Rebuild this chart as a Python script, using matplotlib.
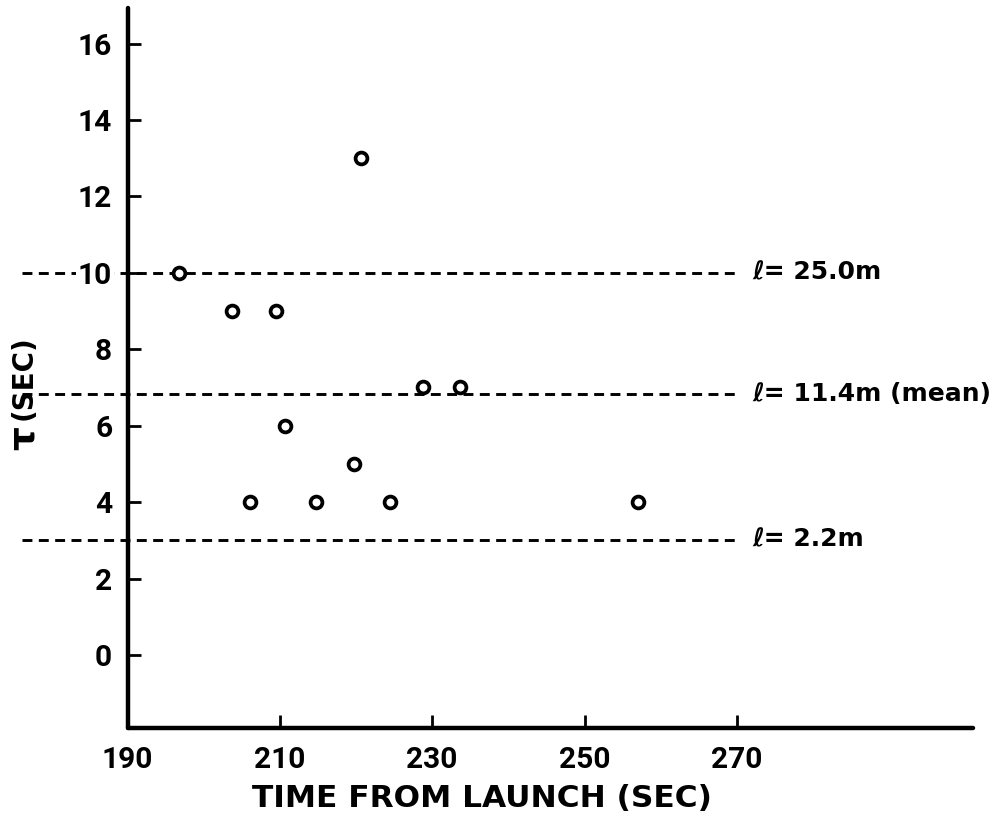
import matplotlib
matplotlib.use("Agg")
import matplotlib.pyplot as plt

# Relaxation time versus time from launch
time_s = [196.7, 203.7, 209.5, 206.1, 210.7, 214.8, 219.8, 220.6, 224.5, 228.8, 233.6, 257.0]
tau_s = [10, 9, 9, 4, 6, 4, 5, 13, 4, 7, 7, 4]

# Reference scale lengths and their tau levels
ref_tau = [10.0, 6.82, 3.0]
ref_labels = ["ℓ= 25.0m", "ℓ= 11.4m (mean)", "ℓ= 2.2m"]

xticks = [190, 210, 230, 250, 270]
yticks = [0, 2, 4, 6, 8, 10, 12, 14, 16]

plt.rcParams["font.family"] = ["Roboto", "DejaVu Sans"]
WIDE = ["DejaVu Sans"]

W, H = 991, 818
fig = plt.figure(figsize=(W / 100, H / 100), dpi=100)
ax = fig.add_axes([127.5 / W, 90 / H, (973 - 127.5) / W, (728 - 8) / H])
ax.set_xlim(190, 301)
ax.set_ylim(-1.91, 16.93)
ax.set_axisbelow(False)

for s in ("top", "right"):
    ax.spines[s].set_visible(False)
for s in ("left", "bottom"):
    ax.spines[s].set_linewidth(3.2)
    ax.spines[s].set_capstyle("round")

ax.set_xticks(xticks)
ax.set_yticks(yticks)
ax.tick_params(axis="both", direction="in", length=9.5, width=2.0,
               labelsize=21.5, pad=11)
ax.tick_params(axis="x", pad=13)
for lab in ax.get_xticklabels() + ax.get_yticklabels():
    lab.set_fontweight("bold")

# Dashed reference levels running past the left axis
for yv, txt in zip(ref_tau, ref_labels):
    ax.plot([176.2, 269.8], [yv, yv], color="black", lw=2.1,
            linestyle=(0, (3.4, 2.2)), clip_on=False, zorder=2)
    ax.annotate(txt, xy=(272.0, yv), xytext=(0, -4.5), textcoords="offset points",
                ha="left", va="baseline", fontsize=18, fontweight="bold",
                family=WIDE, annotation_clip=False)

# The "10" tick label sits on top of the upper dashed line
for lab in ax.get_yticklabels():
    if lab.get_text() == "10":
        lab.set_bbox(dict(facecolor="white", edgecolor="none", pad=1.5))

ax.plot(time_s, tau_s, linestyle="none", marker="o", markersize=8.5,
        markerfacecolor="white", markeredgecolor="black",
        markeredgewidth=2.7, zorder=3, clip_on=False)

fig.text(482 / W, 1 - 807 / H, "TIME FROM LAUNCH (SEC)", ha="center",
         va="baseline", fontsize=22.5, fontweight="bold", family=WIDE)
fig.text(24 / W, 1 - 378 / H, "(SEC)", rotation=90, ha="center",
         va="center", fontsize=20, fontweight="bold", family=WIDE)
fig.text(24 / W, 1 - 438 / H, "τ", rotation=90, ha="center",
         va="center", fontsize=27, fontweight="bold", family=WIDE)

fig.savefig("out.png", dpi=100)
